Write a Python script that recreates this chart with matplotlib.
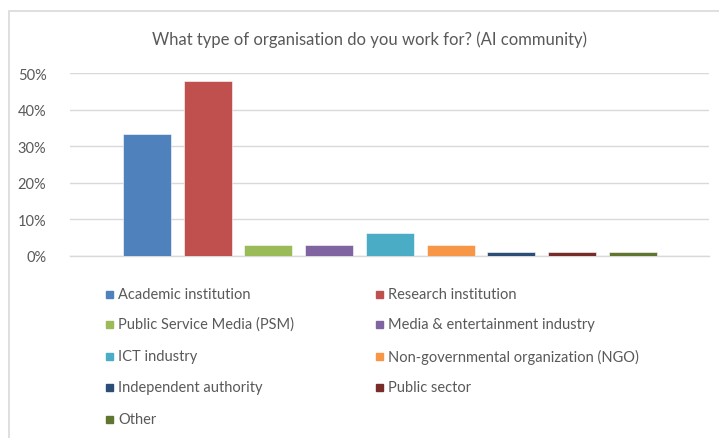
import numpy as np
import matplotlib
matplotlib.use("Agg")
import matplotlib.pyplot as plt
from matplotlib.patches import Rectangle
from matplotlib.ticker import PercentFormatter

# survey answers, share of respondents (96 answers in total)
categories = [
    "Academic institution",
    "Research institution",
    "Public Service Media (PSM)",
    "Media & entertainment industry",
    "ICT industry",
    "Non-governmental organization (NGO)",
    "Independent authority",
    "Public sector",
    "Other",
]
shares = [33.3, 47.9, 3.1, 3.1, 6.25, 3.1, 1.04, 1.04, 1.04]
colors = ["#4F81BD", "#C0504D", "#9BBB59", "#8064A2", "#4BACC6",
          "#F79646", "#2C4D75", "#772C2A", "#5F7530"]
title = "What type of organisation do you work for? (AI community)"

plt.rcParams["font.family"] = ["Lato", "DejaVu Sans"]
txt_color = "#595959"
grid_color = "#D9D9D9"

W, H = 719, 439
fig = plt.figure(figsize=(W / 100, H / 100), dpi=100)

# chart frame (left and top edges visible, rest is cut off)
fig.patches.append(Rectangle((9 / W, -0.1), 1.2, 1 - 12 / H + 0.1,
                             transform=fig.transFigure, fill=False,
                             edgecolor=grid_color, linewidth=1.2))

ax = fig.add_axes([70 / W, 1 - 257 / H, 639 / W, (257 - 74.3) / H])
x = np.arange(len(categories))
ax.bar(x, shares, width=0.79, color=colors, edgecolor="white",
       linewidth=0.4, zorder=3)
ax.set_xlim(-1.263, 9.25)
ax.set_ylim(0, 50)
ax.set_yticks(np.arange(0, 51, 10))
ax.yaxis.set_major_formatter(PercentFormatter(decimals=0))
ax.set_xticks([])
ax.grid(axis="y", color=grid_color, linewidth=1.0, zorder=0)
for s in ["top", "right", "left"]:
    ax.spines[s].set_visible(False)
ax.spines["bottom"].set_color(grid_color)
ax.spines["bottom"].set_linewidth(1.0)
ax.tick_params(axis="y", length=0, pad=17, labelsize=10.5, labelcolor=txt_color)

fig.text(369.5 / W, 1 - 40 / H, title, ha="center", va="center",
         fontsize=12, color=txt_color)

# legend, two columns filled row by row
col_x = [106, 376]
row_y = [295, 325, 357, 388, 420]
for i, (lab, c) in enumerate(zip(categories, colors)):
    cx = col_x[i % 2]
    cy = row_y[i // 2]
    fig.patches.append(Rectangle((cx / W, 1 - (cy + 3.5) / H), 7 / W, 7 / H,
                                 transform=fig.transFigure, color=c))
    fig.text((cx + 12) / W, 1 - cy / H, lab, ha="left", va="center",
             fontsize=10.5, color=txt_color)

fig.savefig("out.png", dpi=100)
